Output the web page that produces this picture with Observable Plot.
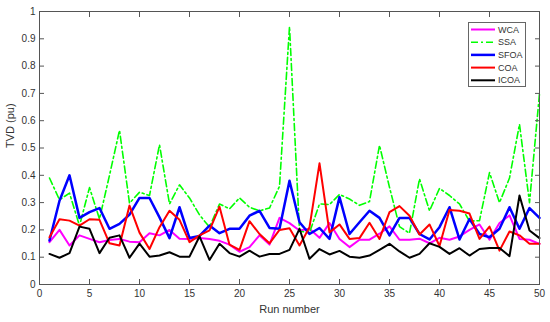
<!DOCTYPE html>
<html><head><meta charset="utf-8">
<script src="https://cdn.jsdelivr.net/npm/d3@7"></script>
<script src="https://cdn.jsdelivr.net/npm/@observablehq/plot@0.6"></script>
<style>
body{margin:0;background:#fff}
#chart{position:relative;width:550px;height:322px;font-family:Arial,"Liberation Sans",sans-serif}
#legend{position:absolute;left:468px;top:22px}
</style>
</head><body><div id="chart"></div>
<script>
const runs = [1,2,3,4,5,6,7,8,9,10,11,12,13,14,15,16,17,18,19,20,21,22,23,24,25,26,27,28,29,30,31,32,33,34,35,36,37,38,39,40,41,42,43,44,45,46,47,48,49,50];
const wca = [0.155,0.20,0.143,0.18,0.167,0.155,0.163,0.167,0.157,0.155,0.188,0.18,0.20,0.168,0.167,0.17,0.167,0.16,0.146,0.12,0.137,0.18,0.146,0.244,0.225,0.198,0.204,0.171,0.225,0.167,0.137,0.164,0.164,0.186,0.213,0.164,0.164,0.168,0.151,0.171,0.164,0.176,0.2,0.22,0.164,0.225,0.253,0.167,0.164,0.149];
const ssa = [0.39,0.31,0.335,0.215,0.355,0.24,0.40,0.565,0.298,0.338,0.326,0.512,0.295,0.365,0.317,0.255,0.21,0.295,0.277,0.317,0.283,0.27,0.28,0.36,0.945,0.195,0.19,0.295,0.293,0.33,0.313,0.29,0.304,0.51,0.356,0.212,0.188,0.387,0.27,0.352,0.326,0.295,0.232,0.234,0.41,0.30,0.39,0.587,0.30,0.70];
const sfoa = [0.161,0.307,0.40,0.244,0.265,0.28,0.204,0.222,0.256,0.317,0.317,0.246,0.17,0.283,0.17,0.178,0.216,0.188,0.204,0.204,0.252,0.27,0.207,0.204,0.38,0.228,0.185,0.207,0.167,0.32,0.185,0.228,0.27,0.244,0.18,0.244,0.244,0.185,0.165,0.21,0.283,0.165,0.24,0.185,0.173,0.204,0.283,0.204,0.28,0.244];
const coa = [0.173,0.239,0.234,0.216,0.239,0.237,0.151,0.143,0.289,0.19,0.13,0.21,0.27,0.237,0.155,0.18,0.198,0.285,0.146,0.127,0.232,0.185,0.151,0.2,0.206,0.143,0.21,0.444,0.191,0.22,0.167,0.17,0.226,0.167,0.265,0.287,0.252,0.183,0.22,0.141,0.273,0.27,0.26,0.167,0.212,0.124,0.194,0.18,0.149,0.149];
const icoa = [0.112,0.098,0.115,0.212,0.204,0.115,0.171,0.18,0.098,0.15,0.102,0.106,0.118,0.102,0.102,0.176,0.09,0.149,0.115,0.102,0.124,0.102,0.112,0.112,0.127,0.204,0.094,0.13,0.11,0.123,0.102,0.098,0.106,0.127,0.149,0.121,0.098,0.112,0.151,0.138,0.112,0.133,0.106,0.13,0.134,0.134,0.104,0.326,0.198,0.17];

const seriesNames = ["WCA","SSA","SFOA","COA","ICOA"];
const seriesValues = [wca, ssa, sfoa, coa, icoa];
const seriesColors = ["#ff00ff","#00ff00","#0000ff","#ff0000","#000000"];
const seriesDash = [null,"7,3,2,3",null,null,null];
const seriesWidth = [2,1.6,2.5,2,2];

const xTicks = [0,5,10,15,20,25,30,35,40,45,50];
const yTicks = [0,0.1,0.2,0.3,0.4,0.5,0.6,0.7,0.8,0.9,1];
const xLabel = "Run number";
const yLabel = "TVD (pu)";

const marks = [];
seriesNames.forEach((name, i) => {
  const rows = runs.map((r, j) => ({run: r, value: seriesValues[i][j], series: name}));
  const opts = {x: "run", y: "value", stroke: seriesColors[i], strokeWidth: seriesWidth[i], strokeLinejoin: "round"};
  if (seriesDash[i]) opts.strokeDasharray = seriesDash[i];
  marks.push(Plot.line(rows, opts));
});

const fmtY = d => d3.format("~g")(d);
const tc = "#333";

const plot = Plot.plot({
  width: 550, height: 322,
  marginLeft: 39, marginRight: 11, marginTop: 11, marginBottom: 38,
  style: {fontFamily: 'Arial, "Liberation Sans", sans-serif', fontSize: "10px", color: tc, background: "white"},
  x: {domain: [0, 50]},
  y: {domain: [0, 1]},
  marks: [
    ...marks,
    Plot.frame({stroke: "#555", strokeWidth: 1}),
    Plot.axisX(xTicks, {anchor: "bottom", tickSize: 0, tickPadding: 5, label: null, fill: tc}),
    Plot.axisX(xTicks, {anchor: "bottom", tickSize: -5, tickFormat: () => "", label: null, stroke: "#555"}),
    Plot.axisX(xTicks, {anchor: "top", tickSize: -5, tickFormat: () => "", label: null, stroke: "#555"}),
    Plot.axisY(yTicks, {anchor: "left", tickSize: 0, tickPadding: 4, tickFormat: fmtY, label: null, fill: tc}),
    Plot.axisY(yTicks, {anchor: "left", tickSize: -5, tickFormat: () => "", label: null, stroke: "#555"}),
    Plot.axisY(yTicks, {anchor: "right", tickSize: -5, tickFormat: () => "", label: null, stroke: "#555"}),
    Plot.text([xLabel], {frameAnchor: "bottom", dy: 28, fontSize: 11, fill: tc}),
    Plot.text([yLabel], {frameAnchor: "left", dx: -29, rotate: -90, fontSize: 11, fill: tc})
  ]
});
const chart = document.getElementById("chart");
chart.appendChild(plot);

// legend
const lw = 58, lh = 65;
const leg = d3.create("svg").attr("id", "legend").attr("width", lw).attr("height", lh);
leg.append("rect").attr("x", 0.5).attr("y", 0.5).attr("width", lw - 1).attr("height", lh - 1)
  .attr("fill", "white").attr("stroke", "#666").attr("stroke-width", 1);
seriesNames.forEach((name, i) => {
  const y = 7.5 + i * 12.7;
  const l = leg.append("line").attr("x1", 3).attr("x2", 27).attr("y1", y).attr("y2", y)
    .attr("stroke", seriesColors[i]).attr("stroke-width", seriesWidth[i]);
  if (seriesDash[i]) l.attr("stroke-dasharray", seriesDash[i]);
  leg.append("text").attr("x", 30).attr("y", y).attr("dy", "0.35em")
    .attr("font-size", 9).attr("fill", tc).attr("font-family", 'Arial, "Liberation Sans", sans-serif').text(name);
});
chart.appendChild(leg.node());
</script>
</body></html>
